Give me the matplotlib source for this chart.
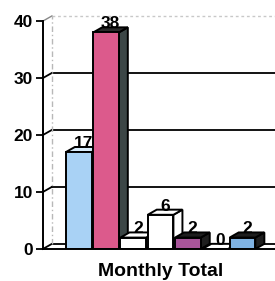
import matplotlib.pyplot as plt
from matplotlib.patches import Polygon

plt.rcParams['font.family'] = ['Liberation Sans', 'DejaVu Sans']

values = [17, 38, 2, 6, 2, 0, 2]
labels = ['17', '38', '2', '6', '2', '0', '2']
front_colors = ['#a9d2f5', '#dc5a8c', 'white', 'white', '#a8559a', 'white', '#7fb2e2']
side_colors = ['#6a8aa8', '#3c4646', 'white', 'white', '#1e1e1e', 'white', '#1e1e1e']
top_colors = ['#d8ecfb', '#2a2a2a', 'white', 'white', '#1e1e1e', 'white', '#1e1e1e']
yticks = [0, 10, 20, 30, 40]
xlabel = 'Monthly Total'

# fake 3d depth in data units
dx, dy = 0.33, 0.9
width = 0.94
xmin, xmax = -1.31, 7.19

fig = plt.figure(figsize=(2.75, 2.81), dpi=100)
ax = fig.add_axes([0.156, 0.114, 0.844, 0.811])
ax.set_xlim(xmin, xmax)
ax.set_ylim(0, 40)

# back wall
for t in yticks:
    if t == 40:
        ax.plot([xmin + dx, xmax], [t + dy, t + dy], color='#c8c8c8', lw=1, ls=(0, (2, 2)), clip_on=False)
        ax.plot([xmin, xmin + dx], [t, t + dy], color='#888888', lw=1, clip_on=False)
        continue
    ax.plot([xmin + dx, xmax], [t + dy, t + dy], color='black', lw=1.3, clip_on=False)
    ax.plot([xmin, xmin + dx], [t, t + dy], color='black', lw=1.3, clip_on=False)
ax.plot([xmin + dx, xmin + dx], [dy, 40 + dy], color='#b8b8b8', lw=1, ls=(0, (4, 2, 1, 2)), clip_on=False)

# bars with side and top faces
for i, v in enumerate(values):
    x0, x1 = i - width / 2, i + width / 2
    side = Polygon([(x1, 0), (x1, v), (x1 + dx, v + dy), (x1 + dx, dy)],
                   closed=True, fc=side_colors[i], ec='black', lw=1.4, zorder=3 + i)
    top = Polygon([(x0, v), (x0 + dx, v + dy), (x1 + dx, v + dy), (x1, v)],
                  closed=True, fc=top_colors[i], ec='black', lw=1.4, zorder=3 + i)
    ax.add_patch(side)
    ax.add_patch(top)
    ax.bar(i, v, width=width, color=front_colors[i], edgecolor='black', lw=1.4, zorder=3 + i)
    ax.text(i + dx / 2, v + 0.2, labels[i], ha='center', va='bottom', fontsize=12.5,
            fontweight='bold', zorder=20, clip_on=False)

ax.set_yticks(yticks)
ax.set_yticklabels([str(t) for t in yticks], fontsize=12.5, fontweight='bold')
ax.set_xticks([])
ax.tick_params(axis='y', length=5, width=1.3, pad=2, direction='out')
for s in ['top', 'right']:
    ax.spines[s].set_visible(False)
ax.spines['left'].set_linewidth(1.4)
ax.spines['bottom'].set_linewidth(1.4)
ax.spines['left'].set_zorder(30)
ax.spines['bottom'].set_zorder(30)

fig.text(0.585, 0.035, xlabel, ha='center', va='center', fontsize=14, fontweight='bold')

fig.savefig('out.png', dpi=100)
